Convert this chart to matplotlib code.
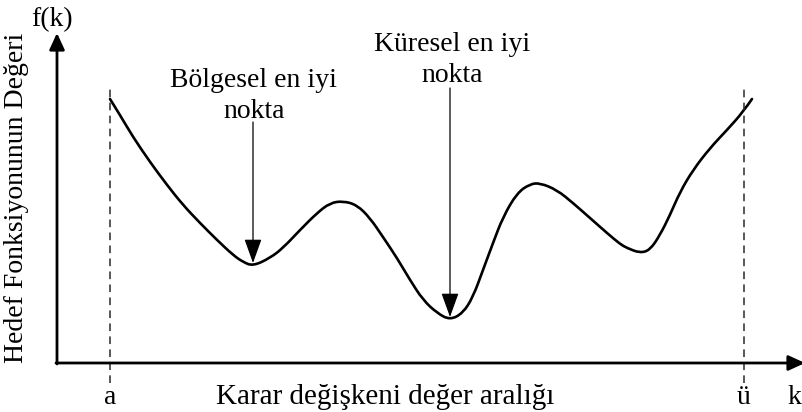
import matplotlib
matplotlib.use("Agg")
import matplotlib.pyplot as plt
from matplotlib.path import Path
from matplotlib.patches import PathPatch

plt.rcParams['font.family'] = ['Liberation Serif', 'DejaVu Serif']

# curve (k from the y-axis, f(k) from the x-axis)
k = [53, 63, 76, 93, 110, 126, 143, 160, 176, 186, 196, 213, 226, 243, 260,
     273, 286, 300, 313, 326, 340, 353, 366, 380, 393, 406, 416, 426, 436, 446,
     460, 473, 483, 500, 516, 533, 550, 563, 570, 583, 593, 603, 613, 623, 636,
     653, 670, 686, 695]
f = [264, 248, 226, 201, 178, 158, 140, 123, 108, 101, 97, 105, 115, 133, 150,
     160, 162, 158, 145, 126, 105, 83, 63, 50, 43, 50, 66, 93, 120, 146,
     170, 179, 180, 173, 160, 145, 130, 119, 115, 110, 113, 128, 148, 171, 193,
     215, 233, 251, 264]

bounds = [53, 687]          # a and ü
bound_labels = ['a', 'ü']
local_min = (196, 99)
global_min = (393, 45)
FS = 20

fig = plt.figure(figsize=(8.02, 4.12), dpi=100)
ax = fig.add_axes([0, 0, 1, 1])
ax.set_xlim(-57, 745)
ax.set_ylim(-49, 363)
ax.axis('off')

# axes with arrow heads
axis_kw = dict(arrowstyle='-|>,head_length=0.5,head_width=0.23',
               mutation_scale=20, lw=2, color='black', shrinkA=0, shrinkB=0)
ax.annotate('', xy=(0, 330), xytext=(0, -1), arrowprops=axis_kw,
            annotation_clip=False)
ax.annotate('', xy=(748, 0), xytext=(-1, 0), arrowprops=axis_kw,
            annotation_clip=False)

# search interval bounds
for b, lab in zip(bounds, bound_labels):
    ax.plot([b, b], [-20, 278], ls=(0, (5, 3.5)), color='#2a2a2a', lw=1.1)
    ax.text(b, -34, lab, ha='center', va='center', fontsize=FS)

# smooth curve: read points used as quadratic bezier controls
pts = list(zip(k, f))
verts = [pts[0]]
codes = [Path.MOVETO]
for i in range(1, len(pts) - 1):
    mid = ((pts[i][0] + pts[i + 1][0]) / 2, (pts[i][1] + pts[i + 1][1]) / 2)
    if i == len(pts) - 2:
        mid = pts[-1]
    verts += [pts[i], mid]
    codes += [Path.CURVE3, Path.CURVE3]
ax.add_patch(PathPatch(Path(verts, codes), fill=False, lw=1.9,
                       edgecolor='black', capstyle='round', joinstyle='round'))

arrow_kw = dict(arrowstyle='-|>,head_length=0.75,head_width=0.27',
                mutation_scale=20, lw=0.9, color='black', shrinkA=0, shrinkB=0)
ax.annotate('', xy=(local_min[0], local_min[1] + 1), xytext=(local_min[0], 241),
            arrowprops=arrow_kw)
ax.annotate('', xy=(global_min[0], global_min[1] + 1), xytext=(global_min[0], 275),
            arrowprops=arrow_kw)
ax.text(197, 267, 'Bölgesel en iyi\nnokta', ha='center', va='center',
        fontsize=FS, linespacing=1.3)
ax.text(395, 303, 'Küresel en iyi\nnokta', ha='center', va='center',
        fontsize=FS, linespacing=1.3)

ax.text(-5, 343, 'f(k)', ha='center', va='center', fontsize=FS)
ax.text(737, -34, 'k', ha='center', va='center', fontsize=FS)
ax.text(328, -34, 'Karar değişkeni değer aralığı', ha='center', va='center',
        fontsize=21)
ax.text(-40, 165, 'Hedef Fonksiyonunun Değeri', ha='center', va='center',
        rotation=90, fontsize=FS)

fig.savefig('out.png', dpi=100)
